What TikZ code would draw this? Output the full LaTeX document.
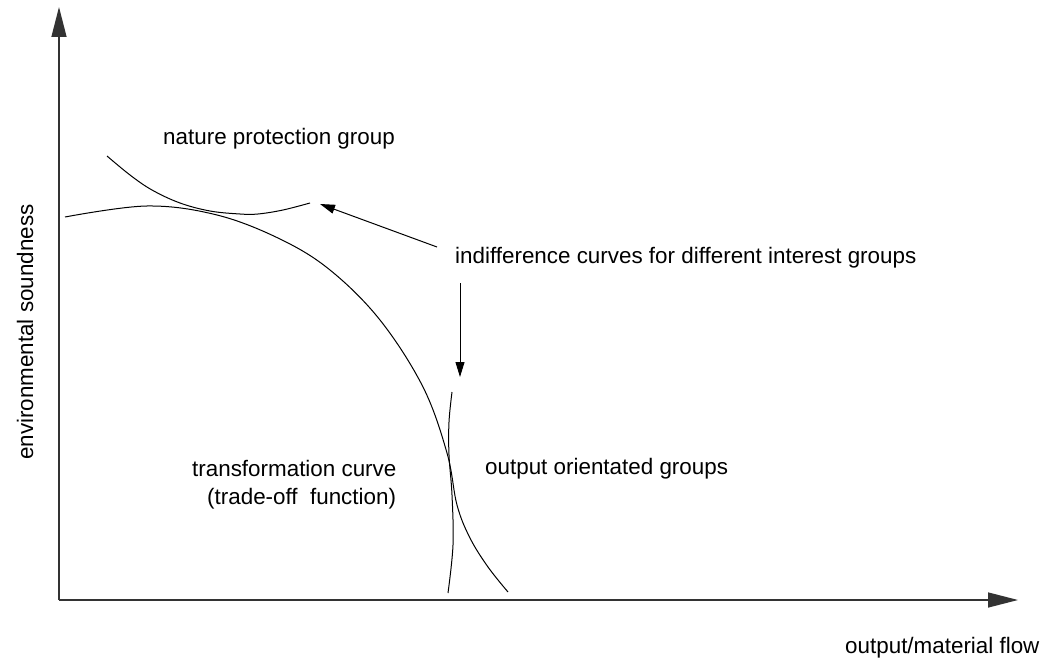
\documentclass[tikz,border=0pt]{standalone}
\usepackage{fontspec}
\setmainfont{Liberation Sans}
\usetikzlibrary{arrows.meta}
\begin{document}
\begin{tikzpicture}[x=1pt,y=-1pt,
  axis/.style={line width=1.4pt,draw=black!80,-{Triangle[length=30pt,width=15pt]}},
  curve/.style={line width=1pt,black},
  pointer/.style={line width=1pt,-{Triangle[length=15pt,width=9pt]}},
  lbl/.style={inner sep=0pt,anchor=base west,font=\fontsize{22.4}{26}\selectfont}]
\useasboundingbox (0,0) rectangle (1045,666);
% axes
\coordinate (O) at (59,600);
\coordinate (ytip) at (59,7);
\coordinate (xtip) at (1018,600);
\draw[axis] (O) -- (ytip);
\draw[axis] (O) -- (xtip);
% transformation curve
\draw[curve] plot[smooth,tension=0.6] coordinates {(65,217) (147,206) (217,215) (280,239) (330,270) (380,320) (423,387) (447,453) (457,505) (470,538) (488,567) (508,592)};
% nature protection indifference curve
\draw[curve] plot[smooth,tension=0.6] coordinates {(107,156) (130,175) (152,190) (180,203) (210,211) (240,214) (258,214) (283,210) (310,203)};
% output oriented indifference curve
\draw[curve] plot[smooth,tension=0.6] coordinates {(452,392) (449,422) (449,455) (452,495) (453,545) (448,593)};
% labels
\node[lbl] (nat) at (163,145) {nature protection group};
\node[lbl] (ind) at (455,263) {indifference curves for different interest groups};
\node[lbl] (tr1) at (192,476) {transformation curve};
\node[lbl] (tr2) at (207,504) {(trade-off\ \ function)};
\node[lbl] (out) at (485,474) {output orientated groups};
\node[lbl] (xl) at (845,653) {output/material flow};
\node[lbl,rotate=90] (yl) at (33,460) {environmental soundness};
% pointers
\coordinate (p1s) at (437,247);
\coordinate (p1e) at (320,204);
\coordinate (p2s) at (460,283);
\coordinate (p2e) at (460,377);
\draw[pointer] (p1s) -- (p1e);
\draw[pointer] (p2s) -- (p2e);
\end{tikzpicture}
\end{document}
